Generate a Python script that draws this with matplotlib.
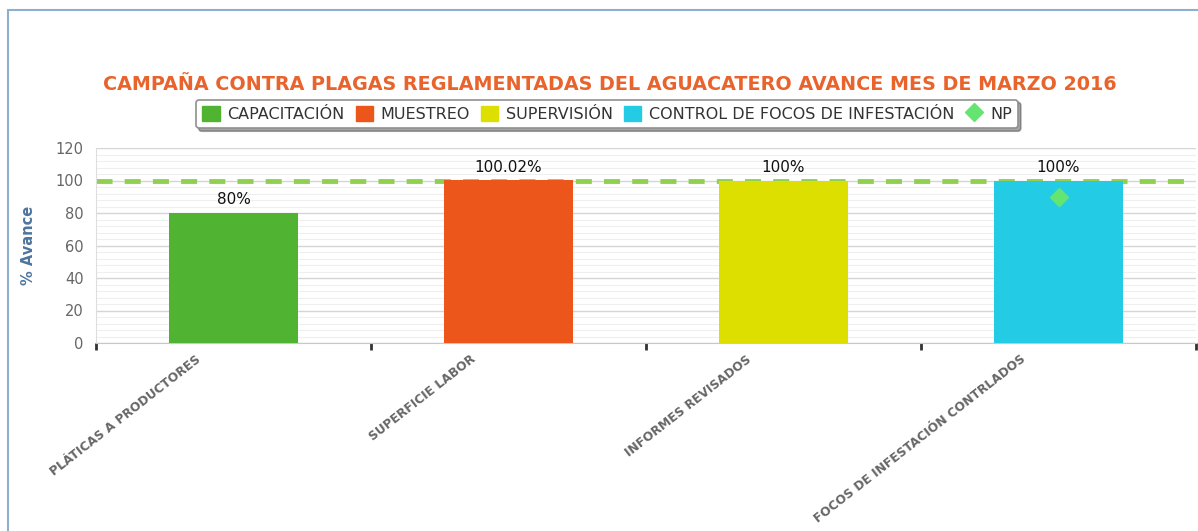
import matplotlib
matplotlib.use('Agg')
import matplotlib.pyplot as plt
import matplotlib.transforms as mtransforms
from matplotlib.patches import Rectangle
from matplotlib.lines import Line2D
from matplotlib.ticker import MultipleLocator, FixedLocator

# data
categorias = ['PLÁTICAS A PRODUCTORES', 'SUPERFICIE LABOR',
              'INFORMES REVISADOS', 'FOCOS DE INFESTACIÓN CONTRLADOS']
series = ['CAPACITACIÓN', 'MUESTREO', 'SUPERVISIÓN',
          'CONTROL DE FOCOS DE INFESTACIÓN']
avance = [80, 100.02, 100, 100]
np_cat = 3
np_valor = 90
meta = 100
colores = ['#50B432', '#ED561B', '#DDDF00', '#24CBE5']

titulo = 'CAMPAÑA CONTRA PLAGAS REGLAMENTADAS DEL AGUACATERO AVANCE MES DE MARZO 2016'

fig = plt.figure(figsize=(11.98, 5.31), dpi=100)
fig.patch.set_facecolor('white')

# light blue frame around the chart container
fig.patches.append(Rectangle((8 / 1198, -0.1), 1.2, 1 - 10 / 531 + 0.1,
                             transform=fig.transFigure, fill=False,
                             edgecolor='#8DB0D0', linewidth=1.5))

ax = fig.add_axes([96 / 1198, 1 - 343 / 531, 1100 / 1198, 195 / 531])

x = list(range(len(categorias)))
for i, v in enumerate(avance):
    ax.bar(x[i], v, width=0.47, color=colores[i], label=series[i], zorder=3)
    ax.annotate(f'{v:g}%', (x[i], v), xytext=(0, 4), textcoords='offset points',
                ha='center', va='bottom', fontsize=11, color='#111111', zorder=5)

# target line sits behind the bars
ax.axhline(meta, color='#8FD14F', linewidth=3.5, dashes=(3.3, 2.5), zorder=2)
ax.plot([x[np_cat]], [np_valor], marker='D', markersize=9, color='#64E572',
        linestyle='none', zorder=6, label='NP')

ax.set_xlim(-0.5, len(categorias) - 0.5)
ax.set_ylim(0, 120)
ax.yaxis.set_major_locator(MultipleLocator(20))
ax.yaxis.set_minor_locator(MultipleLocator(4))
ax.grid(True, axis='y', which='major', color='#D5D5D5', linewidth=1, zorder=0)
ax.grid(True, axis='y', which='minor', color='#EFEFEF', linewidth=0.8, zorder=0)

for s in ['top', 'right']:
    ax.spines[s].set_visible(False)
ax.spines['left'].set_color('#DDDDDD')
ax.spines['bottom'].set_color('#C8C8C8')

ax.tick_params(axis='y', which='both', length=0, labelsize=10.5,
               labelcolor='#666666', pad=9)

ax.set_xticks(x)
ax.set_xticklabels(categorias, rotation=38, ha='right', rotation_mode='anchor',
                   fontsize=8.8, fontweight='bold', color='#666666')
ax.xaxis.set_minor_locator(FixedLocator([i - 0.5 for i in range(len(categorias) + 1)]))
ax.tick_params(axis='x', which='major', length=0, pad=7)
ax.tick_params(axis='x', which='minor', length=5, width=2, color='#333333',
               direction='out')
desplaza = mtransforms.ScaledTranslation(-38 / 100, 0, fig.dpi_scale_trans)
for lab in ax.get_xticklabels():
    lab.set_transform(lab.get_transform() + desplaza)

ax.set_ylabel('% Avance', fontsize=10.5, fontweight='bold', color='#4D759E',
              labelpad=14)

fig.text(0.509, 1 - 85 / 531, titulo, ha='center', va='center',
         fontsize=13.8, fontweight='bold', color='#E9632C')

handles = [Rectangle((0, 0), 1, 1, color=c) for c in colores]
handles.append(Line2D([], [], marker='D', color='#64E572', linestyle='none',
                      markersize=9))
leg = fig.legend(handles, series + ['NP'], loc='center',
                 bbox_to_anchor=(607 / 1198, 1 - 114 / 531), ncol=5,
                 fontsize=11.5, frameon=True, fancybox=True, shadow=True,
                 handlelength=1.1, handleheight=1.1, handletextpad=0.45,
                 columnspacing=0.7, borderpad=0.4)
leg.get_frame().set_edgecolor('#909090')
leg.get_frame().set_linewidth(1.2)
for t in leg.get_texts():
    t.set_color('#333333')

fig.savefig('out.png', dpi=100)
